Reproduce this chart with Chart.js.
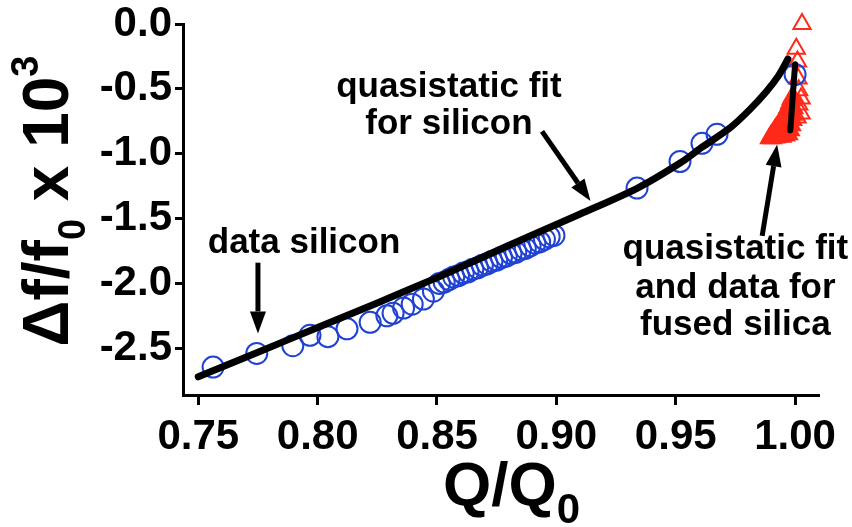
<!DOCTYPE html>
<html>
<head>
    <title>Frequency shift vs Q/Q0</title>
    <style>
        html, body {
            margin: 0;
            padding: 0;
            background: #ffffff;
        }
        #chart-box {
            width: 852px;
            height: 527px;
            position: relative;
        }
    </style>
    <script src="https://cdn.jsdelivr.net/npm/chart.js"></script>
</head>
<body>
    <div id="chart-box">
        <canvas id="qChart"></canvas>
    </div>
    <script>
        // axis ticks
        const xTicks = [0.75, 0.80, 0.85, 0.90, 0.95, 1.00];
        const yTicks = [0.0, -0.5, -1.0, -1.5, -2.0, -2.5];

        // quasistatic fit for silicon
        const fitSiX = [0.750, 0.775, 0.800, 0.825, 0.850, 0.870, 0.889, 0.910, 0.934, 0.952, 0.961, 0.9728, 0.981, 0.988, 0.993, 0.997];
        const fitSiY = [-2.72, -2.53, -2.34, -2.15, -1.955, -1.79, -1.633, -1.465, -1.265, -1.07, -0.95, -0.80, -0.66, -0.52, -0.40, -0.27];

        // data silicon (circles)
        const siX = [0.7562, 0.7745, 0.7896, 0.7968, 0.8043, 0.8123, 0.8220, 0.8290, 0.8316, 0.8360, 0.8396, 0.8443, 0.8485,
                     0.851, 0.853, 0.855, 0.857, 0.859, 0.861, 0.863, 0.865, 0.867, 0.869, 0.871, 0.873, 0.875, 0.877,
                     0.879, 0.881, 0.883, 0.885, 0.887, 0.889, 0.891, 0.893, 0.895, 0.897, 0.899,
                     0.9338, 0.9518, 0.9610, 0.9673, 1.0000];
        const siY = [-2.645, -2.54, -2.48, -2.40, -2.41, -2.35, -2.30, -2.25, -2.23, -2.19, -2.16, -2.12, -2.06,
                     -2.00, -1.99, -1.97, -1.95, -1.94, -1.92, -1.91, -1.89, -1.88, -1.86, -1.85, -1.83, -1.82, -1.80,
                     -1.79, -1.77, -1.76, -1.74, -1.73, -1.71, -1.69, -1.68, -1.66, -1.64, -1.63,
                     -1.265, -1.06, -0.92, -0.85, -0.39];

        // quasistatic fit for fused silica
        const fitFsX = [1.0000, 0.9980];
        const fitFsY = [-0.31, -0.82];

        // data fused silica (triangles): outlying points and the dense group
        const fsX = [1.0029, 1.0005, 1.0010, 1.0012, 1.0015, 1.0025, 1.0015, 1.0025, 1.0008];
        const fsY = [0.00, -0.19, -0.29, -0.42, -0.51, -0.575, -0.62, -0.69, -0.72];
        const fsDenseX = [0.9893, 0.9905, 0.9918, 0.9930, 0.9945, 0.9960, 0.9972,
                          0.9900, 0.9908, 0.9915, 0.9922, 0.9930, 0.9937, 0.9944, 0.9951, 0.9958, 0.9965, 0.9972, 0.9978, 0.9984, 0.9990,
                          0.9980, 0.9985, 0.9990, 0.9992, 0.9995];
        const fsDenseY = [-0.88, -0.88, -0.875, -0.87, -0.87, -0.86, -0.85,
                          -0.86, -0.84, -0.82, -0.80, -0.78, -0.76, -0.74, -0.72, -0.70, -0.67, -0.64, -0.61, -0.58, -0.56,
                          -0.82, -0.78, -0.74, -0.70, -0.65];

        // annotations, in data units
        const noteTexts = [
            { x: 0.855, y: -0.56, text: 'quasistatic fit' },
            { x: 0.855, y: -0.851, text: 'for silicon' },
            { x: 0.7943, y: -1.764, text: 'data silicon' },
            { x: 0.975, y: -1.81, text: 'quasistatic fit' },
            { x: 0.975, y: -2.109, text: 'and data for' },
            { x: 0.975, y: -2.40, text: 'fused silica' }
        ];
        const noteArrows = [
            { x1: 0.894, y1: -0.828, x2: 0.9143, y2: -1.365 },
            { x1: 0.775, y1: -1.84, x2: 0.775, y2: -2.385 },
            { x1: 0.9862, y1: -1.633, x2: 0.9925, y2: -0.928 }
        ];

        const FONT = "'Liberation Sans', Arial, sans-serif";
        const RED = '#ff2a1a';
        const BLUE = '#2042d4';

        function toPoints(xs, ys) {
            return xs.map((x, i) => ({ x: x, y: ys[i] }));
        }

        // draws a run of text pieces (main, sub, sup) along one baseline
        function drawPieces(ctx, pieces, x, y) {
            let cx = x;
            pieces.forEach(p => {
                ctx.font = 'bold ' + p.size + 'px ' + FONT;
                ctx.fillText(p.t, cx, y + (p.dy || 0));
                cx += ctx.measureText(p.t).width;
            });
        }

        function piecesWidth(ctx, pieces) {
            let w = 0;
            pieces.forEach(p => {
                ctx.font = 'bold ' + p.size + 'px ' + FONT;
                w += ctx.measureText(p.t).width;
            });
            return w;
        }

        const whiteBg = {
            id: 'whiteBg',
            beforeDraw(chart) {
                const ctx = chart.ctx;
                ctx.save();
                ctx.fillStyle = '#ffffff';
                ctx.fillRect(0, 0, chart.width, chart.height);
                ctx.restore();
            }
        };

        const axisTitles = {
            id: 'axisTitles',
            afterDraw(chart) {
                const ctx = chart.ctx;
                const area = chart.chartArea;
                ctx.save();
                ctx.fillStyle = '#000';
                ctx.textAlign = 'left';
                ctx.textBaseline = 'alphabetic';

                // x title: Q/Q0
                const xt = [{ t: 'Q/Q', size: 62 }, { t: '0', size: 42, dy: 18 }];
                const xw = piecesWidth(ctx, xt);
                drawPieces(ctx, xt, (area.left + area.right) / 2 + 11 - xw / 2, 505);

                // y title: Δf/f0 x 10^3
                const yt = [
                    { t: '\u0394f/f', size: 64 },
                    { t: '0', size: 38, dy: 17 },
                    { t: ' x 10', size: 64 },
                    { t: '3', size: 38, dy: -30 }
                ];
                const yw = piecesWidth(ctx, yt);
                ctx.translate(68, 201);
                ctx.rotate(-Math.PI / 2);
                drawPieces(ctx, yt, -yw / 2, 0);
                ctx.restore();
            }
        };

        const notes = {
            id: 'notes',
            afterDraw(chart) {
                const ctx = chart.ctx;
                const sx = chart.scales.x;
                const sy = chart.scales.y;
                ctx.save();
                ctx.fillStyle = '#000';
                ctx.strokeStyle = '#000';
                ctx.font = 'bold 35px ' + FONT;
                ctx.textAlign = 'center';
                ctx.textBaseline = 'alphabetic';
                noteTexts.forEach(n => {
                    ctx.fillText(n.text, sx.getPixelForValue(n.x), sy.getPixelForValue(n.y));
                });

                noteArrows.forEach(a => {
                    const x1 = sx.getPixelForValue(a.x1), y1 = sy.getPixelForValue(a.y1);
                    const x2 = sx.getPixelForValue(a.x2), y2 = sy.getPixelForValue(a.y2);
                    const ang = Math.atan2(y2 - y1, x2 - x1);
                    const headLen = 22, headHalf = 8;
                    const bx = x2 - Math.cos(ang) * headLen;
                    const by = y2 - Math.sin(ang) * headLen;
                    ctx.lineWidth = 5;
                    ctx.beginPath();
                    ctx.moveTo(x1, y1);
                    ctx.lineTo(bx, by);
                    ctx.stroke();
                    ctx.beginPath();
                    ctx.moveTo(x2, y2);
                    ctx.lineTo(bx - Math.sin(ang) * headHalf, by + Math.cos(ang) * headHalf);
                    ctx.lineTo(bx + Math.sin(ang) * headHalf, by - Math.cos(ang) * headHalf);
                    ctx.closePath();
                    ctx.fill();
                });
                ctx.restore();
            }
        };

        const tickFont = { family: FONT, size: 42, weight: 'bold', lineHeight: 1 };

        new Chart(document.getElementById('qChart'), {
            type: 'scatter',
            data: {
                datasets: [
                    {
                        label: 'quasistatic fit silicon',
                        data: toPoints(fitSiX, fitSiY),
                        showLine: true,
                        borderColor: '#000',
                        borderWidth: 7,
                        pointRadius: 0,
                        tension: 0.3,
                        borderCapStyle: 'round',
                        order: 0,
                        clip: false
                    },
                    {
                        label: 'quasistatic fit fused silica',
                        data: toPoints(fitFsX, fitFsY),
                        showLine: true,
                        borderColor: '#000',
                        borderWidth: 6,
                        pointRadius: 0,
                        borderCapStyle: 'round',
                        order: 0,
                        clip: false
                    },
                    {
                        label: 'data silicon',
                        data: toPoints(siX, siY),
                        pointStyle: 'circle',
                        pointRadius: 10.5,
                        pointBorderWidth: 2,
                        pointBorderColor: BLUE,
                        pointBackgroundColor: 'rgba(0,0,0,0)',
                        order: 2,
                        clip: false
                    },
                    {
                        label: 'data fused silica',
                        data: toPoints(fsX, fsY),
                        pointStyle: 'triangle',
                        pointRadius: 10,
                        pointBorderWidth: 2,
                        pointBorderColor: RED,
                        pointBackgroundColor: 'rgba(0,0,0,0)',
                        order: 3,
                        clip: false
                    },
                    {
                        label: 'data fused silica (dense)',
                        data: toPoints(fsDenseX, fsDenseY),
                        pointStyle: 'triangle',
                        pointRadius: 10,
                        pointBorderWidth: 2,
                        pointBorderColor: RED,
                        pointBackgroundColor: RED,
                        order: 3,
                        clip: false
                    }
                ]
            },
            options: {
                responsive: true,
                maintainAspectRatio: false,
                animation: false,
                layout: {
                    padding: { left: 0, right: 34, top: 22, bottom: 0 }
                },
                plugins: {
                    legend: { display: false },
                    tooltip: { enabled: false }
                },
                scales: {
                    x: {
                        type: 'linear',
                        min: 0.7436,
                        max: 1.0096,
                        afterBuildTicks: s => { s.ticks = xTicks.map(v => ({ value: v })); },
                        afterFit: s => { s.height = 132; },
                        border: { display: true, color: '#000', width: 3 },
                        grid: { display: true, drawOnChartArea: false, drawTicks: true, tickLength: 10, color: '#000', lineWidth: 3 },
                        ticks: {
                            color: '#000',
                            font: tickFont,
                            padding: 11,
                            maxRotation: 0,
                            minRotation: 0,
                            autoSkip: false,
                            callback: v => Number(v).toFixed(2)
                        }
                    },
                    y: {
                        type: 'linear',
                        min: -2.86,
                        max: 0.0,
                        afterBuildTicks: s => { s.ticks = yTicks.map(v => ({ value: v })); },
                        afterFit: s => { s.width = 183; },
                        border: { display: true, color: '#000', width: 3 },
                        grid: { display: true, drawOnChartArea: false, drawTicks: true, tickLength: 8, color: '#000', lineWidth: 3 },
                        ticks: {
                            color: '#000',
                            font: tickFont,
                            padding: 3,
                            autoSkip: false,
                            callback: v => Number(v).toFixed(1)
                        }
                    }
                }
            },
            plugins: [whiteBg, axisTitles, notes]
        });
    </script>
</body>
</html>
